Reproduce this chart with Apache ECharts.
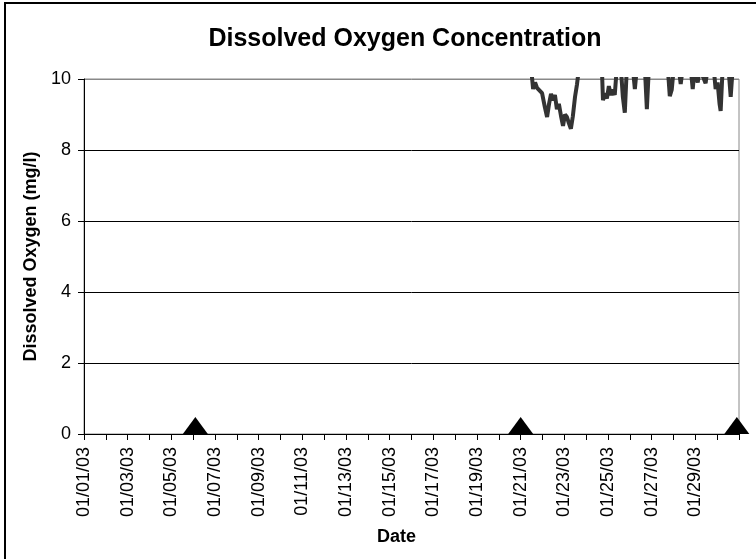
<!DOCTYPE html>
<html>
<head>
<meta charset="utf-8">
<script src="https://cdn.jsdelivr.net/npm/echarts@6/dist/echarts.min.js"></script>
<style>
  html, body { margin: 0; padding: 0; background: #fff; }
  #chart { width: 756px; height: 559px; }
</style>
</head>
<body>
<div id="chart"></div>
<script>
// x labels, one every 2 days (01/31 not labelled)
var tickLabels = ['01/01/03', '01/03/03', '01/05/03', '01/07/03', '01/09/03', '01/11/03', '01/13/03', '01/15/03',
  '01/17/03', '01/19/03', '01/21/03', '01/23/03', '01/25/03', '01/27/03', '01/29/03'];

// days since 01/01/03 00:00
var doDays = [20.48, 20.57, 20.66, 20.75, 20.84, 20.98, 21.11, 21.21, 21.30, 21.39, 21.48, 21.57, 21.66, 21.75,
  21.85, 21.94, 22.03, 22.12, 22.21, 22.30, 22.39, 22.49, 22.58, 22.67, 23.72, 23.77, 23.86, 23.95, 24.04, 24.13,
  24.22, 24.31, 24.40, 24.59, 24.68, 24.77, 24.86, 25.14, 25.23, 25.32, 25.69, 25.78, 25.87, 26.74, 26.83, 26.92,
  27.01, 27.24, 27.33, 27.42, 27.79, 27.88, 27.97, 28.11, 28.20, 28.47, 28.56, 28.84, 28.93, 29.02, 29.11, 29.16,
  29.25, 29.52, 29.62, 29.71, 29.80];
// dissolved oxygen mg/l (readings above 10 run off the top of the axis)
var doValues = [10.3, 9.72, 9.9, 9.75, 9.8, 9.6, 9.2, 8.93, 9.3, 9.58, 9.4, 9.55, 9.15, 9.3,
  8.95, 8.68, 9.0, 8.93, 8.75, 8.6, 8.95, 9.5, 9.85, 10.3, 10.3, 9.4, 9.6, 9.45, 9.8, 9.55,
  9.7, 9.55, 10.3, 10.3, 9.5, 9.05, 10.3, 10.3, 9.72, 10.3, 10.3, 9.15, 10.3, 10.3, 9.52, 9.7,
  10.3, 10.3, 9.86, 10.3, 10.3, 9.72, 10.3, 9.9, 10.3, 9.88, 10.3, 10.3, 9.72, 9.9, 9.3, 9.1,
  10.3, 10.3, 9.5, 10.3, 10.3];

// triangle markers
var markerDays = [5.1, 20.0, 29.9];
var markerValues = [0.24, 0.24, 0.24];

var lineData = doDays.map(function (d, i) { return [d, doValues[i]]; });
var markerData = markerDays.map(function (d, i) { return [d, markerValues[i]]; });

var chart = echarts.init(document.getElementById('chart'));
chart.setOption({
  animation: false,
  backgroundColor: '#fff',
  textStyle: { fontFamily: 'Liberation Sans, Arial, sans-serif', color: '#000' },
  title: {
    text: 'Dissolved Oxygen Concentration',
    left: 400,
    textAlign: 'center',
    top: 22,
    textStyle: { fontSize: 25, fontWeight: 'bold', color: '#000', fontFamily: 'Liberation Sans, Arial, sans-serif' }
  },
  graphic: [{
    type: 'rect',
    shape: { x: 5, y: 3, width: 800, height: 600 },
    style: { fill: 'none', stroke: '#000', lineWidth: 2 },
    silent: true
  }],
  grid: {
    left: 84, right: 17, top: 79, bottom: 125,
    show: true, borderColor: '#888', borderWidth: 1, backgroundColor: '#fff'
  },
  xAxis: {
    type: 'value',
    min: 0, max: 30, interval: 1,
    name: 'Date',
    nameLocation: 'middle',
    nameGap: 94,
    nameTextStyle: { fontSize: 18, fontWeight: 'bold', color: '#000', padding: [0, 30, 0, 0] },
    axisLine: { lineStyle: { color: '#000', width: 1 } },
    axisTick: { show: true, length: 6, lineStyle: { color: '#000' } },
    axisLabel: {
      rotate: 90, margin: 13, fontSize: 18, color: '#000', showMaxLabel: true, showMinLabel: true,
      formatter: function (v) {
        return v % 2 === 0 && tickLabels[v / 2] ? tickLabels[v / 2] : '';
      }
    },
    splitLine: { show: false }
  },
  yAxis: {
    type: 'value',
    min: 0, max: 10, interval: 2,
    name: 'Dissolved Oxygen (mg/l)',
    nameLocation: 'middle',
    nameGap: 42,
    nameTextStyle: { fontSize: 18, fontWeight: 'bold', color: '#000' },
    axisLine: { show: true, lineStyle: { color: '#000', width: 1 } },
    axisTick: { show: true, length: 6, lineStyle: { color: '#000' } },
    axisLabel: { margin: 13, fontSize: 18, color: '#000' },
    splitLine: { show: true, lineStyle: { color: ['#000', '#000', '#000', '#000', '#000', '#888'], width: 1 } }
  },
  series: [
    {
      name: 'DO',
      type: 'line',
      data: lineData,
      showSymbol: false,
      clip: true,
      lineStyle: { color: '#333', width: 4 },
      itemStyle: { color: '#333' }
    },
    {
      name: 'Samples',
      type: 'scatter',
      data: markerData,
      symbol: 'triangle',
      symbolSize: [25, 17],
      clip: false,
      itemStyle: { color: '#000', opacity: 1 }
    }
  ]
});
</script>
</body>
</html>
